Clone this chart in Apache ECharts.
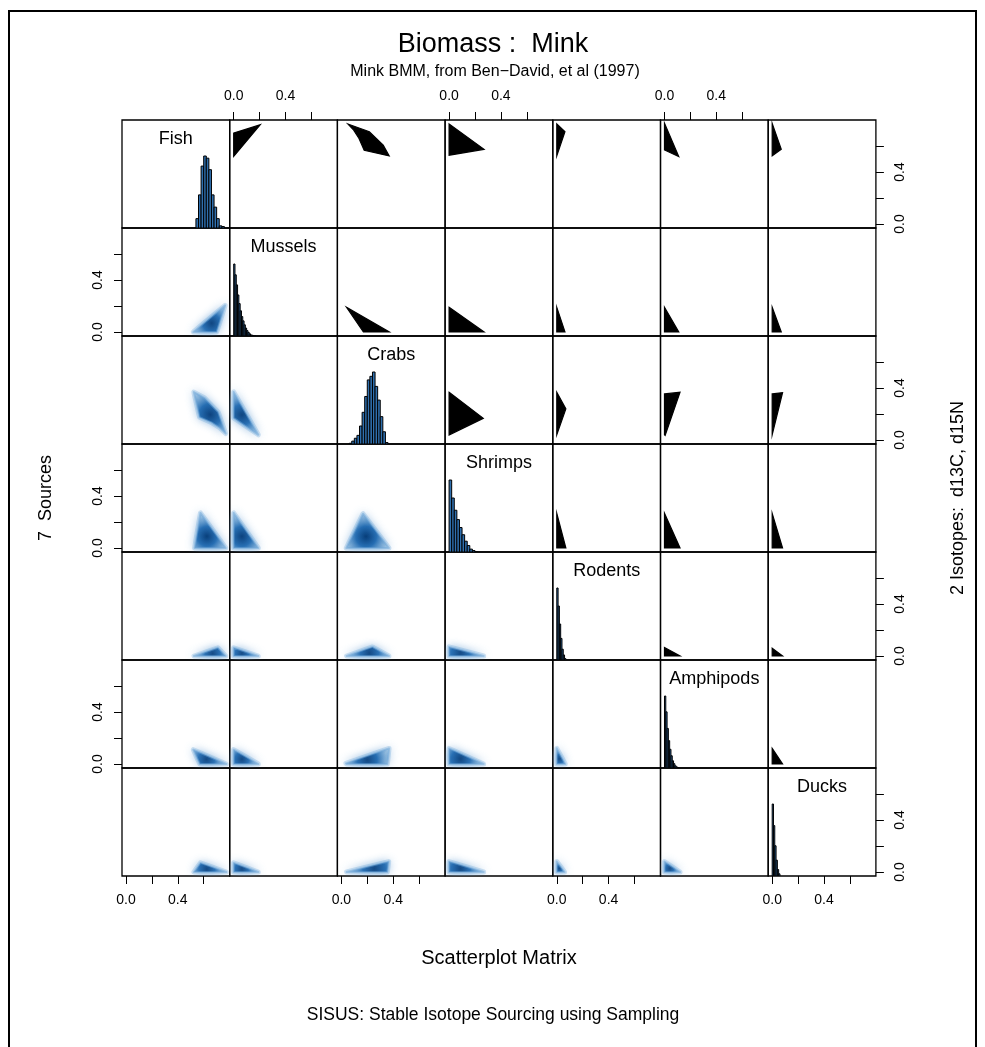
<!DOCTYPE html>
<html>
<head>
<meta charset="utf-8">
<title>Biomass : Mink</title>
<script src="https://cdn.jsdelivr.net/npm/echarts@6/dist/echarts.min.js"></script>
<style>
html, body { margin: 0; padding: 0; background: #fff; }
#main { width: 985px; height: 1047px; }
</style>
</head>
<body>
<div id="main"></div>
<script>
// sources, in matrix order
var sources = ['Fish', 'Mussels', 'Crabs', 'Shrimps', 'Rodents', 'Amphipods', 'Ducks'];
var tickValues = [0, 0.2, 0.4, 0.6];
var labelValues = [0, 0.4];
var axisMin = -0.0308, axisMax = 0.8008;

// diagonal histograms: first break, bin width, bar heights (tallest bar = 1)
var histStart = [0.54, 0, 0.06, 0, 0, 0, 0];
var histBin = [0.02, 0.01, 0.02, 0.02, 0.01, 0.01, 0.01];
var fishHist = [0.13, 0.46, 0.86, 1.0, 0.97, 0.81, 0.46, 0.29, 0.13, 0.03, 0.02];
var musselsHist = [1.0, 0.85, 0.71, 0.57, 0.45, 0.35, 0.27, 0.21, 0.155, 0.11, 0.075, 0.05, 0.03, 0.015, 0.01, 0.005, 0.003];
var crabsHist = [0.01, 0.04, 0.08, 0.12, 0.25, 0.44, 0.66, 0.89, 0.94, 1.0, 0.80, 0.61, 0.38, 0.17, 0.02];
var shrimpsHist = [1.0, 0.75, 0.58, 0.45, 0.34, 0.24, 0.15, 0.09, 0.04, 0.02, 0.005];
var rodentsHist = [1.0, 0.75, 0.5, 0.3, 0.15, 0.07, 0.02];
var amphipodsHist = [1.0, 0.78, 0.55, 0.38, 0.26, 0.17, 0.1, 0.06, 0.03, 0.015, 0.005];
var ducksHist = [1.0, 0.7, 0.42, 0.22, 0.09, 0.03];
var histHeights = [fishHist, musselsHist, crabsHist, shrimpsHist, rodentsHist, amphipodsHist, ducksHist];

// outlines of the sampled clouds, points are [column source, row source]
var fishMussels = [[0, 0.70], [0.205, 0.765], [0, 0.52]];
var fishCrabs = [[0.05, 0.77], [0.216, 0.711], [0.323, 0.607], [0.369, 0.524], [0.176, 0.568], [0.136, 0.659], [0.095, 0.723]];
var fishShrimps = [[0, 0.77], [0.27, 0.575], [0, 0.53]];
var fishRodents = [[0, 0.77], [0.063, 0.71], [0, 0.525]];
var fishAmphipods = [[0, 0.775], [0.11, 0.52], [0, 0.57]];
var fishDucks = [[0, 0.775], [0.07, 0.575], [0, 0.525]];
var musselsCrabs = [[0.04, 0.19], [0.37, 0], [0.17, 0]];
var musselsShrimps = [[0, 0.19], [0.27, 0], [0, 0]];
var musselsRodents = [[0, 0.19], [0.063, 0], [0, 0]];
var musselsAmphipods = [[0, 0.19], [0.11, 0], [0, 0]];
var musselsDucks = [[0, 0.19], [0.07, 0], [0, 0]];
var crabsShrimps = [[0, 0.367], [0.264, 0.167], [0, 0.038]];
var crabsRodents = [[0, 0.367], [0.07, 0.24], [0, 0.04]];
var crabsAmphipods = [[0, 0.355], [0.12, 0.368], [0.005, 0.035], [0, 0.04]];
var crabsDucks = [[0, 0.355], [0.08, 0.365], [0, 0.04]];
var shrimpsRodents = [[0, 0.267], [0.07, 0], [0, 0]];
var shrimpsAmphipods = [[0, 0.267], [0.12, 0], [0, 0]];
var shrimpsDucks = [[0, 0.267], [0.08, 0], [0, 0]];
var rodentsAmphipods = [[0, 0.065], [0.12, 0], [0, 0]];
var rodentsDucks = [[0, 0.06], [0.08, 0], [0, 0]];
var amphipodsDucks = [[0, 0.12], [0.08, 0], [0, 0]];

var clouds = [
    [0, 1, fishMussels], [0, 2, fishCrabs], [0, 3, fishShrimps], [0, 4, fishRodents], [0, 5, fishAmphipods], [0, 6, fishDucks],
    [1, 2, musselsCrabs], [1, 3, musselsShrimps], [1, 4, musselsRodents], [1, 5, musselsAmphipods], [1, 6, musselsDucks],
    [2, 3, crabsShrimps], [2, 4, crabsRodents], [2, 5, crabsAmphipods], [2, 6, crabsDucks],
    [3, 4, shrimpsRodents], [3, 5, shrimpsAmphipods], [3, 6, shrimpsDucks],
    [4, 5, rodentsAmphipods], [4, 6, rodentsDucks],
    [5, 6, amphipodsDucks]
];

var FONT = '"Liberation Sans", Arial, sans-serif';
var n = sources.length;
var gridLeft = 122, gridTop = 120, cellW = 107.7, cellH = 108;

var myChart = echarts.init(document.getElementById('main'));

var grids = [], xAxes = [], yAxes = [], series = [], graphics = [];

function fmt(v) { return v.toFixed(1); }

function sourceAxis(extra) {
    var ax = {
        type: 'value', min: axisMin, max: axisMax,
        axisLine: { show: false, onZero: false },
        splitLine: { show: false },
        axisTick: { show: true, inside: false, customValues: tickValues, length: 8, lineStyle: { color: '#000', width: 1 } },
        axisLabel: { customValues: labelValues, formatter: fmt, color: '#000', fontSize: 14, fontFamily: FONT, margin: 17 }
    };
    for (var key in extra) ax[key] = extra[key];
    return ax;
}

for (var r = 0; r < n; r++) {
    for (var c = 0; c < n; c++) {
        var k = r * n + c;
        grids.push({
            left: gridLeft + c * cellW, top: gridTop + r * cellH,
            width: cellW, height: cellH,
            show: true, borderColor: '#000', borderWidth: 1.3,
            backgroundColor: 'transparent',
            outerBoundsMode: 'none'
        });
        var showX = (r === 0 && c % 2 === 1) || (r === n - 1 && c % 2 === 0);
        xAxes.push(sourceAxis({ gridIndex: k, position: r === 0 ? 'top' : 'bottom', show: showX }));
        var showY = (c === 0 && r % 2 === 1) || (c === n - 1 && r % 2 === 0);
        if (r === c) {
            yAxes.push({ gridIndex: k, type: 'value', min: 0, max: 1.5, show: false, splitLine: { show: false } });
        } else {
            var ya = sourceAxis({ gridIndex: k, position: c === 0 ? 'left' : 'right', show: showY });
            ya.axisLabel.rotate = 90;
            yAxes.push(ya);
        }
    }
}
// right axis of the last diagonal panel uses the source scale
var lastY = sourceAxis({ gridIndex: n * n - 1, position: 'right' });
lastY.axisLabel.rotate = 90;
yAxes.push(lastY);

// histograms
for (var i = 0; i < n; i++) {
    (function (i) {
        var bars = histHeights[i].map(function (h, j) {
            return [histStart[i] + j * histBin[i], histStart[i] + (j + 1) * histBin[i], h];
        });
        var k = i * n + i;
        series.push({
            type: 'custom', xAxisIndex: k, yAxisIndex: k, silent: true, clip: true,
            data: bars,
            renderItem: function (params, api) {
                var p0 = api.coord([api.value(0), 0]);
                var p1 = api.coord([api.value(1), api.value(2)]);
                return {
                    type: 'rect',
                    shape: { x: p0[0], y: p1[1], width: p1[0] - p0[0], height: p0[1] - p1[1] },
                    style: { fill: '#2f6fae', stroke: '#000', lineWidth: 1 }
                };
            }
        });
    })(i);
}

function cloudSeries(k, pts, dense) {
    return {
        type: 'custom', xAxisIndex: k, yAxisIndex: k, silent: true, clip: true,
        data: pts,
        renderItem: function (params, api) {
            if (params.dataIndex !== 0) return null;
            var ps = pts.map(function (p) { return api.coord(p); });
            if (!dense) {
                return { type: 'polygon', shape: { points: ps }, style: { fill: '#000', stroke: '#000', lineWidth: 1.2 } };
            }
            var cx = 0, cy = 0;
            ps.forEach(function (p) { cx += p[0]; cy += p[1]; });
            cx /= ps.length; cy /= ps.length;
            var rad = 1;
            ps.forEach(function (p) { rad = Math.max(rad, Math.hypot(p[0] - cx, p[1] - cy)); });
            var grad = new echarts.graphic.RadialGradient(cx, cy, rad, [
                { offset: 0, color: 'rgba(8,62,122,1)' },
                { offset: 0.4, color: 'rgba(33,106,176,1)' },
                { offset: 1, color: 'rgba(160,200,230,0.5)' }
            ], true);
            return {
                type: 'group',
                children: [
                    { type: 'polygon', shape: { points: ps }, style: { fill: 'none', stroke: 'rgba(120,175,220,0.35)', lineWidth: 5, lineJoin: 'round' } },
                    { type: 'polygon', shape: { points: ps }, style: { fill: grad, stroke: 'rgba(110,165,215,0.5)', lineWidth: 2, lineJoin: 'round', shadowBlur: 10, shadowColor: 'rgba(110,165,215,0.9)' } }
                ]
            };
        }
    };
}

clouds.forEach(function (cl) {
    var r = cl[0], c = cl[1], pts = cl[2];
    series.push(cloudSeries(r * n + c, pts, false));
    series.push(cloudSeries(c * n + r, pts.map(function (p) { return [p[1], p[0]]; }), true));
});

// panel names
sources.forEach(function (s, i) {
    graphics.push({
        type: 'text', x: gridLeft + (i + 0.5) * cellW, y: gridTop + i * cellH + 19,
        style: { text: s, fill: '#000', font: '18px ' + FONT, textAlign: 'center', textVerticalAlign: 'middle' }
    });
});

function label(text, x, y, size, rot) {
    graphics.push({
        type: 'text', x: x, y: y, rotation: rot || 0,
        style: { text: text, fill: '#000', font: size + 'px ' + FONT, textAlign: 'center', textVerticalAlign: 'middle' }
    });
}
label('Biomass :  Mink', 493, 45, 27);
label('Mink BMM, from Ben\u2212David, et al (1997)', 495, 72, 16);
label('Scatterplot Matrix', 499, 958, 20);
label('SISUS: Stable Isotope Sourcing using Sampling', 493, 1015, 17.5);
label('7  Sources', 46, 498, 18, Math.PI / 2);
label('2 Isotopes:  d13C, d15N', 958, 498, 18, Math.PI / 2);

graphics.push({
    type: 'rect', shape: { x: 9, y: 11, width: 967, height: 1100 },
    style: { fill: 'none', stroke: '#000', lineWidth: 2 }, z: 10
});

var option = {
    backgroundColor: '#fff',
    animation: false,
    grid: grids,
    xAxis: xAxes,
    yAxis: yAxes,
    series: series,
    graphic: graphics
};
myChart.setOption(option);
</script>
</body>
</html>
